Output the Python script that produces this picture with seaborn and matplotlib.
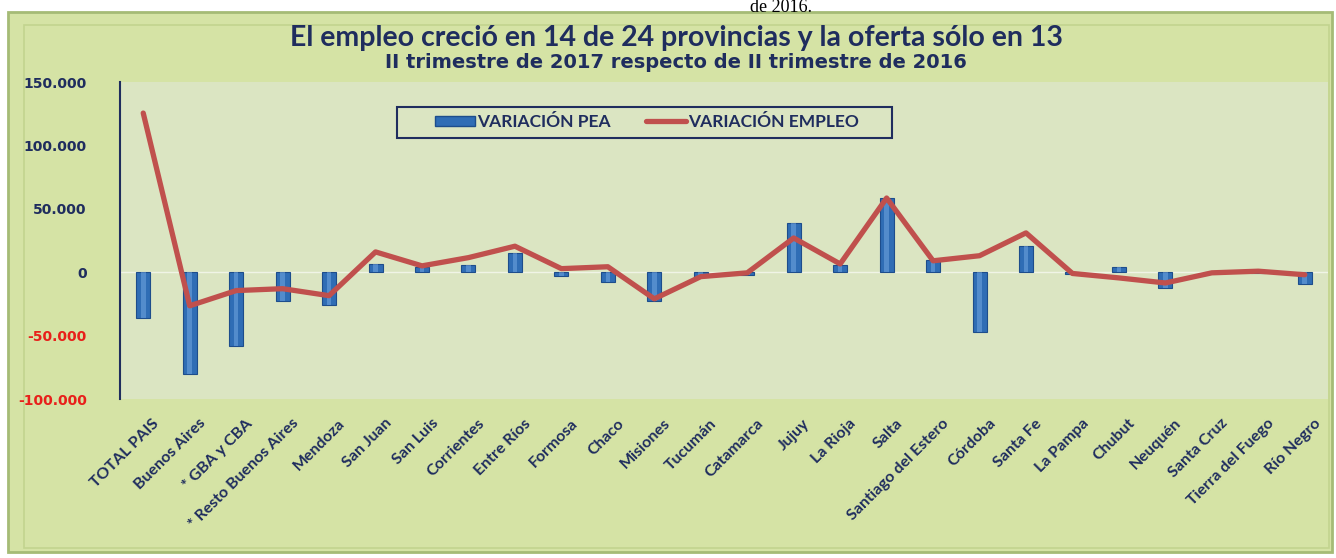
import matplotlib
matplotlib.use('Agg')
import matplotlib.pyplot as plt
import numpy as np
import pandas as pd
import seaborn as sns
from matplotlib.lines import Line2D
from matplotlib.patches import Patch, Rectangle
from matplotlib.transforms import ScaledTranslation

# datos (variación II trim 2017 vs II trim 2016)
provincias = ['TOTAL PAIS', 'Buenos Aires', '* GBA y CBA', '* Resto Buenos Aires', 'Mendoza',
              'San Juan', 'San Luis', 'Corrientes', 'Entre Ríos', 'Formosa', 'Chaco', 'Misiones',
              'Tucumán', 'Catamarca', 'Jujuy', 'La Rioja', 'Salta', 'Santiago del Estero',
              'Córdoba', 'Santa Fe', 'La Pampa', 'Chubut', 'Neuquén', 'Santa Cruz',
              'Tierra del Fuego', 'Río Negro']
variacion_pea = [-36000, -80000, -58500, -22500, -25500, 6500, 4000, 6000, 15000, -3000,
                 -8000, -22500, -4000, -2000, 39000, 6000, 58500, 10000, -47500, 21000,
                 -1500, 4000, -12500, -1000, -500, -9000]
variacion_empleo = [125500, -26500, -14500, -13000, -18500, 16000, 5000, 11500, 20500, 2800,
                    4300, -21000, -3500, -500, 27000, 6500, 58500, 9000, 13000, 31000,
                    -1000, -4500, -8500, -500, 800, -2000]

titulo = 'El empleo creció en 14 de 24 provincias y la oferta sólo en 13'
subtitulo = 'II trimestre de 2017 respecto de II trimestre de 2016'

df = pd.DataFrame({'provincia': provincias, 'pea': variacion_pea, 'empleo': variacion_empleo})
df['pos'] = np.arange(len(df))

navy = '#1f2d5e'
azul = '#2f6db5'
rojo = '#c0504d'
fondo_plot = '#dbe5c2'
fondo = '#d5e3a5'

sns.set_theme(style='white')
plt.rcParams['font.family'] = ['Lato', 'DejaVu Sans']

W, H = 1336, 558
fig = plt.figure(figsize=(W / 100, H / 100), dpi=100, facecolor='white')

# marco exterior del gráfico
fig.patches.append(Rectangle((8 / W, 6 / H), 1324 / W, 540 / H, transform=fig.transFigure,
                             facecolor=fondo, edgecolor='#a5bb76', lw=2, zorder=-10))
fig.patches.append(Rectangle((24 / W, 10 / H), 1305 / W, 523 / H, transform=fig.transFigure,
                             facecolor='none', edgecolor='#c2d48f', lw=1.2, zorder=-9))

# resto del párrafo del documento, arriba del gráfico
fig.text(781 / W, 1 - 12 / H, 'de 2016.', ha='center', va='baseline', fontsize=13,
         family='Liberation Serif', color='black')

ax = fig.add_axes([120 / W, 1 - 399 / H, 1208 / W, 317 / H])
ax.set_zorder(1)
ax.set_facecolor(fondo_plot)

sns.barplot(data=df, x='provincia', y='pea', order=provincias, color=azul, width=0.3,
            edgecolor='#1d4d8c', linewidth=0.8, saturation=1, ax=ax, zorder=2)
# brillo central de las barras (efecto cilindro)
sns.barplot(data=df, x='provincia', y='pea', order=provincias, color='#7fb2ea', width=0.1,
            linewidth=0, saturation=1, alpha=0.45, ax=ax, zorder=2.5)
sns.lineplot(x=df['pos'], y=df['empleo'], color=rojo, lw=3.8, sort=False, ax=ax, zorder=3)
ax.axhline(0, color='white', lw=1, alpha=0.6, zorder=1)

ax.set_xlim(-0.5, len(provincias) - 0.5)
ax.set_ylim(-100000, 150000)
ax.set_xlabel('')
ax.set_ylabel('')
yt = np.arange(-100000, 150001, 50000)
ax.set_yticks(yt)
ax.set_yticklabels([f'{v:,.0f}'.replace(',', '.') for v in yt], family='DejaVu Sans',
                   fontsize=10, weight='bold')
for lab, v in zip(ax.get_yticklabels(), yt):
    lab.set_color('#e8201a' if v < 0 else navy)
ax.tick_params(axis='y', length=0, pad=24)
ax.tick_params(axis='x', length=0, pad=6)
ax.set_xticks(df['pos'])
ax.set_xticklabels(provincias, rotation=45, ha='right', rotation_mode='anchor',
                   fontsize=11.5, weight='bold', color=navy)
desplazo = ScaledTranslation(9 / 100, -9 / 100, fig.dpi_scale_trans)
for lab in ax.get_xticklabels():
    lab.set_transform(lab.get_transform() + desplazo)

for s in ['top', 'right', 'bottom']:
    ax.spines[s].set_visible(False)
ax.spines['left'].set_color(navy)
ax.spines['left'].set_linewidth(1.5)

# recuadro de la leyenda
ax.add_patch(Rectangle((397 / W, 1 - 138 / H), 495 / W, 31 / H, transform=fig.transFigure,
                       facecolor=fondo_plot, edgecolor=navy, lw=1.5, zorder=4, clip_on=False))
handles = [Patch(facecolor=azul, edgecolor='#1d4d8c'), Line2D([0], [0], color=rojo, lw=3.8)]
leg = ax.legend(handles, ['VARIACIÓN PEA', 'VARIACIÓN EMPLEO'], ncol=2, loc='center',
                bbox_to_anchor=(647 / W, 1 - 122 / H), bbox_transform=fig.transFigure,
                frameon=False, prop=dict(weight='bold', size=12.5), labelcolor=navy,
                handlelength=2.3, handleheight=0.5, columnspacing=2.0, handletextpad=0.15)
leg.set_zorder(5)

fig.text(676 / W, 1 - 38 / H, titulo, ha='center', va='center', fontsize=20.5,
         weight='bold', color=navy)
fig.text(676 / W, 1 - 62 / H, subtitulo, ha='center', va='center', fontsize=14,
         weight='bold', color=navy, family='DejaVu Sans')

fig.savefig('out.png', dpi=100, facecolor='white')
